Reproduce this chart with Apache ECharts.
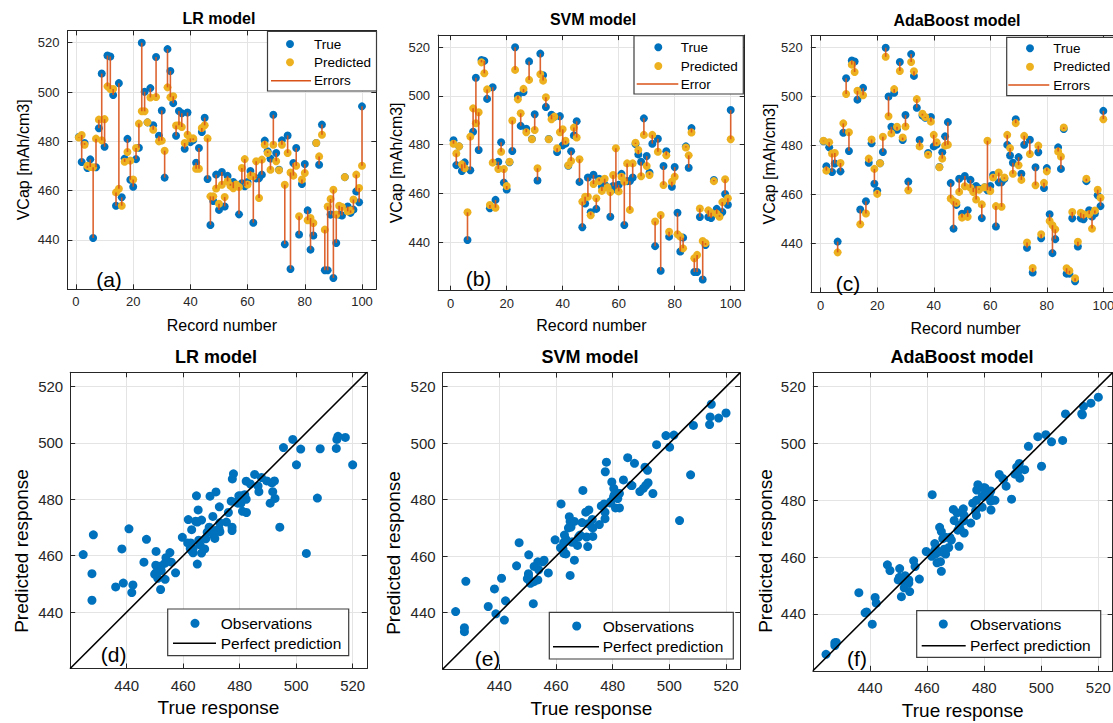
<!DOCTYPE html>
<html><head><meta charset="utf-8">
<script src="https://cdn.jsdelivr.net/npm/echarts@6/dist/echarts.min.js"></script>
<style>html,body{margin:0;padding:0;background:#fff}#c{width:1113px;height:723px}</style>
</head><body><div id="c"></div>
<script>
// ---------------- data ----------------
const recordTicks = [0, 20, 40, 60, 80, 100];
const vcapTicks = [440, 460, 480, 500, 520];
const responseTicks = [440, 460, 480, 500, 520];
const perfectRange = [420, 525];

const trueVals = [481.8, 471.6, 479.3, 469.2, 472.7, 440.8, 469.5, 485.3, 507.5, 477.8,
 514.8, 514.4, 498.8, 453.9, 503.6, 457.3, 473.0, 481.0, 464.4, 461.6,
 472.8, 477.4, 520.0, 500.1, 487.7, 501.6, 486.5, 514.2, 482.3, 492.5,
 465.3, 517.4, 508.5, 495.5, 482.3, 492.3, 491.4, 477.0, 491.7, 479.7,
 480.5, 471.3, 477.3, 483.8, 489.6, 464.7, 446.1, 455.8, 466.5, 452.2,
 467.6, 453.6, 466.0, 462.8, 463.5, 462.5, 450.4, 463.0, 461.8, 463.5,
 468.0, 447.0, 465.0, 465.0, 466.5, 480.3, 476.0, 473.0, 490.8, 475.3,
 468.5, 480.4, 438.3, 482.4, 428.2, 471.2, 477.3, 442.2, 462.7, 470.8,
 452.0, 436.1, 441.8, 479.3, 470.5, 486.8, 427.7, 427.7, 450.3, 424.6,
 438.8, 450.3, 449.9, 465.5, 453.6, 451.0, 452.3, 459.7, 455.3, 494.2];

const lrPred = [481.6, 482.6, 478.6, 470.1, 469.6, 469.5, 481.1, 488.8, 480.4, 489.0,
 502.3, 501.2, 501.2, 459.3, 460.8, 453.9, 471.7, 475.7, 472.2, 464.5,
 477.3, 487.2, 492.2, 492.2, 487.7, 497.8, 484.7, 498.0, 480.0, 480.3,
 476.2, 501.9, 497.9, 498.3, 486.4, 486.5, 485.8, 479.3, 482.7, 481.2,
 481.2, 468.9, 468.9, 485.4, 486.5, 481.2, 457.7, 457.7, 460.9, 454.7,
 462.4, 457.4, 463.8, 462.0, 461.0, 462.5, 461.5, 469.2, 472.8, 462.5,
 466.0, 465.8, 471.9, 457.0, 472.6, 478.6, 475.3, 468.5, 478.6, 471.9,
 468.3, 478.6, 462.4, 475.3, 467.4, 466.1, 470.1, 449.6, 464.5, 467.2,
 448.0, 448.9, 446.9, 479.3, 473.9, 482.7, 444.2, 453.6, 456.6, 460.4,
 450.3, 453.9, 453.4, 465.5, 451.6, 452.0, 456.4, 466.5, 461.1, 470.1];

const svmPred = [480.4, 476.4, 479.3, 471.9, 470.3, 452.2, 483.3, 494.9, 488.8, 493.3,
 513.8, 509.3, 502.7, 455.2, 472.6, 454.1, 470.0, 477.1, 470.0, 463.0,
 473.0, 489.9, 510.7, 498.6, 492.9, 502.9, 485.1, 506.6, 482.2, 486.0,
 470.3, 508.9, 506.3, 499.5, 482.2, 490.4, 491.5, 478.5, 485.1, 486.3,
 481.6, 471.5, 473.3, 487.0, 482.9, 474.0, 456.6, 458.6, 458.6, 451.0,
 463.8, 458.0, 465.0, 461.0, 466.0, 462.5, 460.5, 467.5, 478.5, 460.8,
 466.8, 464.8, 472.3, 453.2, 472.3, 480.8, 477.8, 467.0, 484.0, 471.2,
 467.5, 484.0, 448.4, 477.1, 451.1, 463.4, 475.6, 444.2, 464.8, 466.8,
 443.2, 442.2, 437.4, 478.8, 475.6, 485.0, 433.3, 434.7, 453.8, 440.4,
 439.6, 453.0, 452.0, 465.0, 451.6, 450.4, 456.4, 465.8, 458.0, 482.2];

const adaPred = [482.0, 469.8, 481.4, 476.8, 477.0, 436.4, 472.9, 489.1, 501.1, 485.5,
 513.1, 510.1, 502.4, 447.9, 500.6, 452.3, 474.7, 482.5, 470.5, 460.3,
 472.8, 483.6, 516.3, 492.0, 485.0, 503.1, 487.7, 510.5, 483.3, 487.8,
 461.8, 514.2, 510.4, 499.0, 479.7, 493.0, 491.7, 476.3, 489.8, 484.4,
 481.4, 471.2, 474.7, 480.0, 480.4, 458.4, 457.3, 456.7, 461.1, 450.6,
 463.4, 450.9, 462.8, 461.0, 458.0, 462.0, 456.0, 463.0, 482.0, 461.5,
 467.0, 455.3, 469.0, 455.0, 467.0, 484.4, 479.0, 468.5, 489.2, 472.0,
 466.0, 484.0, 440.4, 476.6, 430.0, 463.8, 480.0, 443.8, 464.8, 469.5,
 449.2, 447.5, 445.8, 477.6, 475.6, 487.4, 429.9, 428.9, 452.9, 425.8,
 440.7, 452.6, 452.0, 466.5, 452.0, 446.1, 453.5, 462.0, 458.7, 490.8];

const modelNames = ['LR model', 'SVM model', 'AdaBoost model'];
const errorNames = ['Errors', 'Error', 'Errors'];
const topLetters = ['(a)', '(b)', '(c)'];
const botLetters = ['(d)', '(e)', '(f)'];
const preds = [lrPred, svmPred, adaPred];

// ---------------- layout / style ----------------
const FONT = '"Liberation Sans", Arial, Helvetica, sans-serif';
const AX = '#262626';
const GRIDC = '#e4e4e4';
const BLUE = '#0072BD', YEL = '#EDB120', RED = '#D95319';

const topGrids = [
  {left: 67.4, top: 30.4, width: 308.9, height: 258.9, xmin: -3, xmax: 105, xGap: 28, yGap: 36,
   title: [219, 18], letter: [109, 279],
   leg: {x: 267.5, y: 31.5, w: 109, h: 59.5, mx: 290, ys: [44, 62.3, 80.7], tx: 314, l1: 271, l2: 311}},
  {left: 438.1, top: 35.1, width: 306.6, height: 255.6, xmin: -4.5, xmax: 105, xGap: 27, yGap: 33,
   title: [593, 19], letter: [478.5, 278],
   leg: {x: 634, y: 35.7, w: 109.3, h: 58.3, mx: 658.3, ys: [47.3, 66, 84], tx: 680.7, l1: 636.7, l2: 678.3}},
  {left: 810.8, top: 35.5, width: 309.5, height: 257, xmin: -3.5, xmax: 106, xGap: 28, yGap: 33,
   title: [957, 20], letter: [848, 283],
   leg: {x: 1006.7, y: 37.3, w: 115, h: 58.4, mx: 1030, ys: [48.3, 66.7, 85], tx: 1053.3, l1: 1008.3, l2: 1049.3}}
];
const botGrids = [
  {left: 70.2, top: 372.3, width: 296.6, height: 296.2, xGap: 29, yName: [21, 551], title: [216, 357], letter: [113.7, 654],
   leg: {x: 167.7, y: 609, w: 181, h: 46.7, mx: 195, my: 623.3, ly: 643.3, l1: 173, l2: 216, tx: 220.7}},
  {left: 442.6, top: 372.6, width: 297.6, height: 296.6, xGap: 30, yName: [393, 553], title: [590, 357], letter: [487.5, 658],
   leg: {x: 549.3, y: 612.3, w: 184, h: 46.7, mx: 576.7, my: 626, ly: 646.7, l1: 553, l2: 599, tx: 602.7}},
  {left: 812.9, top: 372.5, width: 299.7, height: 298.3, xGap: 30, yName: [765, 551], title: [962, 357], letter: [857, 658],
   leg: {x: 916.7, y: 610.7, w: 184, h: 46.6, mx: 943.3, my: 624, ly: 645.7, l1: 921.7, l2: 965.7, tx: 970}}
];

const grids = [], xAxes = [], yAxes = [], series = [], graphics = [];

function lineStyle() { return {color: AX, width: 1}; }

function addAxes(gi, xmin, xmax, ymin, ymax, xTicks, yTicks, xName, yName, fs, nfs, xGap, yGap, xMargin, yMargin) {
  const common = (pos, ticks, isX, primary) => ({
    type: 'value', gridIndex: gi, position: pos,
    min: isX ? xmin : ymin, max: isX ? xmax : ymax,
    axisLine: {show: true, onZero: false, lineStyle: lineStyle()},
    axisTick: {show: true, inside: true, length: 5, customValues: ticks, lineStyle: lineStyle()},
    axisLabel: primary ? {show: true, customValues: ticks, margin: isX ? xMargin : yMargin, fontSize: fs,
      color: AX, fontFamily: FONT} : {show: false},
    splitLine: primary ? {show: true, lineStyle: {color: GRIDC, width: 1}} : {show: false},
    name: primary ? (isX ? xName : yName) : '',
    nameLocation: 'middle', nameGap: isX ? xGap : yGap,
    nameTextStyle: {fontSize: nfs, color: '#000', fontFamily: FONT},
    silent: true
  });
  xAxes.push(common('bottom', xTicks, true, true));
  xAxes.push(common('top', xTicks, true, false));
  yAxes.push(common('left', yTicks, false, true));
  yAxes.push(common('right', yTicks, false, false));
}

function errRender(color) {
  return function (params, api) {
    const a = api.coord([api.value(0), api.value(1)]);
    const b = api.coord([api.value(0), api.value(2)]);
    return {type: 'line', shape: {x1: a[0], y1: a[1], x2: b[0], y2: b[1]},
      style: {stroke: color, lineWidth: 1.6, opacity: 0.9}};
  };
}

function txt(x, y, text, size, weight, align, rot) {
  graphics.push({type: 'text', x: x, y: y, z: 100, silent: true, rotation: rot || 0,
    style: {text: text, font: (weight || 'normal') + ' ' + size + 'px ' + FONT, fill: '#000',
      textAlign: align || 'center', textVerticalAlign: 'middle'}});
}

// top panels
topGrids.forEach((g, k) => {
  const gi = grids.length;
  grids.push({left: g.left, top: g.top, width: g.width, height: g.height, containLabel: false, outerBoundsMode: 'none'});
  const ai = xAxes.length;
  addAxes(gi, g.xmin, g.xmax, 420, 525, recordTicks, vcapTicks, 'Record number', 'VCap [mAh/cm3]', 13, 16, g.xGap, g.yGap, 6, 8);
  const p = preds[k];
  series.push({type: 'scatter', name: 'True', xAxisIndex: ai, yAxisIndex: ai, symbolSize: 8, z: 2,
    itemStyle: {color: BLUE, opacity: 1}, data: trueVals.map((v, i) => [i + 1, v])});
  series.push({type: 'scatter', name: 'Predicted', xAxisIndex: ai, yAxisIndex: ai, symbolSize: 8, z: 3,
    itemStyle: {color: YEL, opacity: 1}, data: p.map((v, i) => [i + 1, v])});
  series.push({type: 'custom', name: errorNames[k], xAxisIndex: ai, yAxisIndex: ai, z: 4,
    renderItem: errRender(RED), encode: {x: 0, y: [1, 2]},
    data: trueVals.map((v, i) => [i + 1, v, p[i]])});
  txt(g.title[0], g.title[1], modelNames[k], 16, 'bold');
  txt(g.letter[0], g.letter[1], topLetters[k], 21);
  const L = g.leg;
  graphics.push({type: 'rect', z: 90, silent: true, shape: {x: L.x, y: L.y, width: L.w, height: L.h},
    style: {fill: '#fff', stroke: '#3c3c3c', lineWidth: 1.2}});
  graphics.push({type: 'circle', z: 95, silent: true, shape: {cx: L.mx, cy: L.ys[0], r: 4}, style: {fill: BLUE}});
  graphics.push({type: 'circle', z: 95, silent: true, shape: {cx: L.mx, cy: L.ys[1], r: 4}, style: {fill: YEL}});
  graphics.push({type: 'line', z: 95, silent: true, shape: {x1: L.l1, y1: L.ys[2], x2: L.l2, y2: L.ys[2]},
    style: {stroke: RED, lineWidth: 1.6}});
  txt(L.tx, L.ys[0], 'True', 13.5, 'normal', 'left');
  txt(L.tx, L.ys[1], 'Predicted', 13.5, 'normal', 'left');
  txt(L.tx, L.ys[2], errorNames[k], 13.5, 'normal', 'left');
});

// bottom panels
botGrids.forEach((g, k) => {
  const gi = grids.length;
  grids.push({left: g.left, top: g.top, width: g.width, height: g.height, containLabel: false, outerBoundsMode: 'none'});
  const ai = xAxes.length;
  addAxes(gi, perfectRange[0], perfectRange[1], perfectRange[0], perfectRange[1], responseTicks, responseTicks,
    'True response', '', 15, 19, g.xGap, 40, 9, 7);
  const p = preds[k];
  series.push({type: 'scatter', name: 'Observations', xAxisIndex: ai, yAxisIndex: ai, symbolSize: 9, z: 2,
    itemStyle: {color: BLUE, opacity: 1}, data: trueVals.map((t, i) => [t, p[i]])});
  series.push({type: 'line', name: 'Perfect prediction', xAxisIndex: ai, yAxisIndex: ai, z: 5,
    symbol: 'none', showSymbol: false, lineStyle: {color: '#000', width: 1.6},
    data: [[perfectRange[0], perfectRange[0]], [perfectRange[1], perfectRange[1]]]});
  txt(g.yName[0], g.yName[1], 'Predicted response', 19, 'normal', 'center', Math.PI / 2);
  txt(g.title[0], g.title[1], modelNames[k], 18, 'bold');
  txt(g.letter[0], g.letter[1], botLetters[k], 21);
  const L = g.leg;
  graphics.push({type: 'rect', z: 90, silent: true, shape: {x: L.x, y: L.y, width: L.w, height: L.h},
    style: {fill: '#fff', stroke: '#3c3c3c', lineWidth: 1.2}});
  graphics.push({type: 'circle', z: 95, silent: true, shape: {cx: L.mx, cy: L.my, r: 4.5}, style: {fill: BLUE}});
  graphics.push({type: 'line', z: 95, silent: true, shape: {x1: L.l1, y1: L.ly, x2: L.l2, y2: L.ly},
    style: {stroke: '#000', lineWidth: 1.6}});
  txt(L.tx, L.my, 'Observations', 15.5, 'normal', 'left');
  txt(L.tx, L.ly, 'Perfect prediction', 15.5, 'normal', 'left');
});

const chart = echarts.init(document.getElementById('c'), null, {renderer: 'svg', width: 1113, height: 723});
chart.setOption({
  animation: false,
  backgroundColor: '#fff',
  grid: grids,
  xAxis: xAxes,
  yAxis: yAxes,
  series: series,
  graphic: {elements: graphics}
});
</script>
</body></html>
